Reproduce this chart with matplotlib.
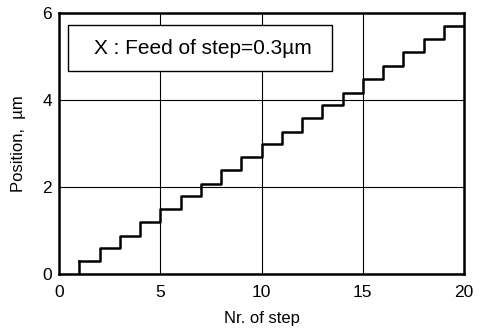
import matplotlib
matplotlib.use("Agg")
import matplotlib.pyplot as plt
from matplotlib.patches import Rectangle

plt.rcParams["font.family"] = ["Liberation Sans", "DejaVu Sans"]

# step number and position reached after that step (um)
steps = [0, 1, 2, 3, 4, 5, 6, 7, 8, 9, 10, 11, 12, 13, 14, 15, 16, 17, 18, 19, 20]
position = [0, 0.3, 0.6, 0.88, 1.2, 1.5, 1.8, 2.08, 2.39, 2.69, 2.99, 3.27,
            3.58, 3.88, 4.16, 4.48, 4.78, 5.1, 5.4, 5.7, 5.7]
x_ticks = [0, 5, 10, 15, 20]
y_ticks = [0, 2, 4, 6]
label_text = "X : Feed of step=0.3\u00b5m"

fig = plt.figure(figsize=(4.85, 3.29), dpi=100)
ax = fig.add_axes([59 / 485, 55 / 329, 405 / 485, 261 / 329])

ax.step(steps[1:], position[1:], where="post", color="black", lw=1.8, zorder=3)
ax.plot([1, 1], [0, position[1]], color="black", lw=1.8, zorder=3)

ax.set_xlim(0, 20)
ax.set_ylim(0, 6)
ax.set_xticks(x_ticks)
ax.set_yticks(y_ticks)
ax.grid(True, color="black", lw=0.8)
ax.tick_params(axis="x", length=0, labelsize=12.5, pad=8)
ax.tick_params(axis="y", length=0, labelsize=12.5, pad=5)
for s in ax.spines.values():
    s.set_linewidth(1.8)

ax.set_xlabel("Nr. of step", fontsize=12, labelpad=8)
ax.set_ylabel("Position,  \u00b5m", fontsize=12, labelpad=12)

# white annotation box
ax.add_patch(Rectangle((9 / 405, 203 / 261), 264 / 405, 46 / 261,
                       transform=ax.transAxes, facecolor="white",
                       edgecolor="black", lw=1.0, zorder=4))
ax.text(144 / 405, 226 / 261, label_text, transform=ax.transAxes,
        ha="center", va="center", fontsize=15, zorder=5)

fig.savefig("out.png", dpi=100)
